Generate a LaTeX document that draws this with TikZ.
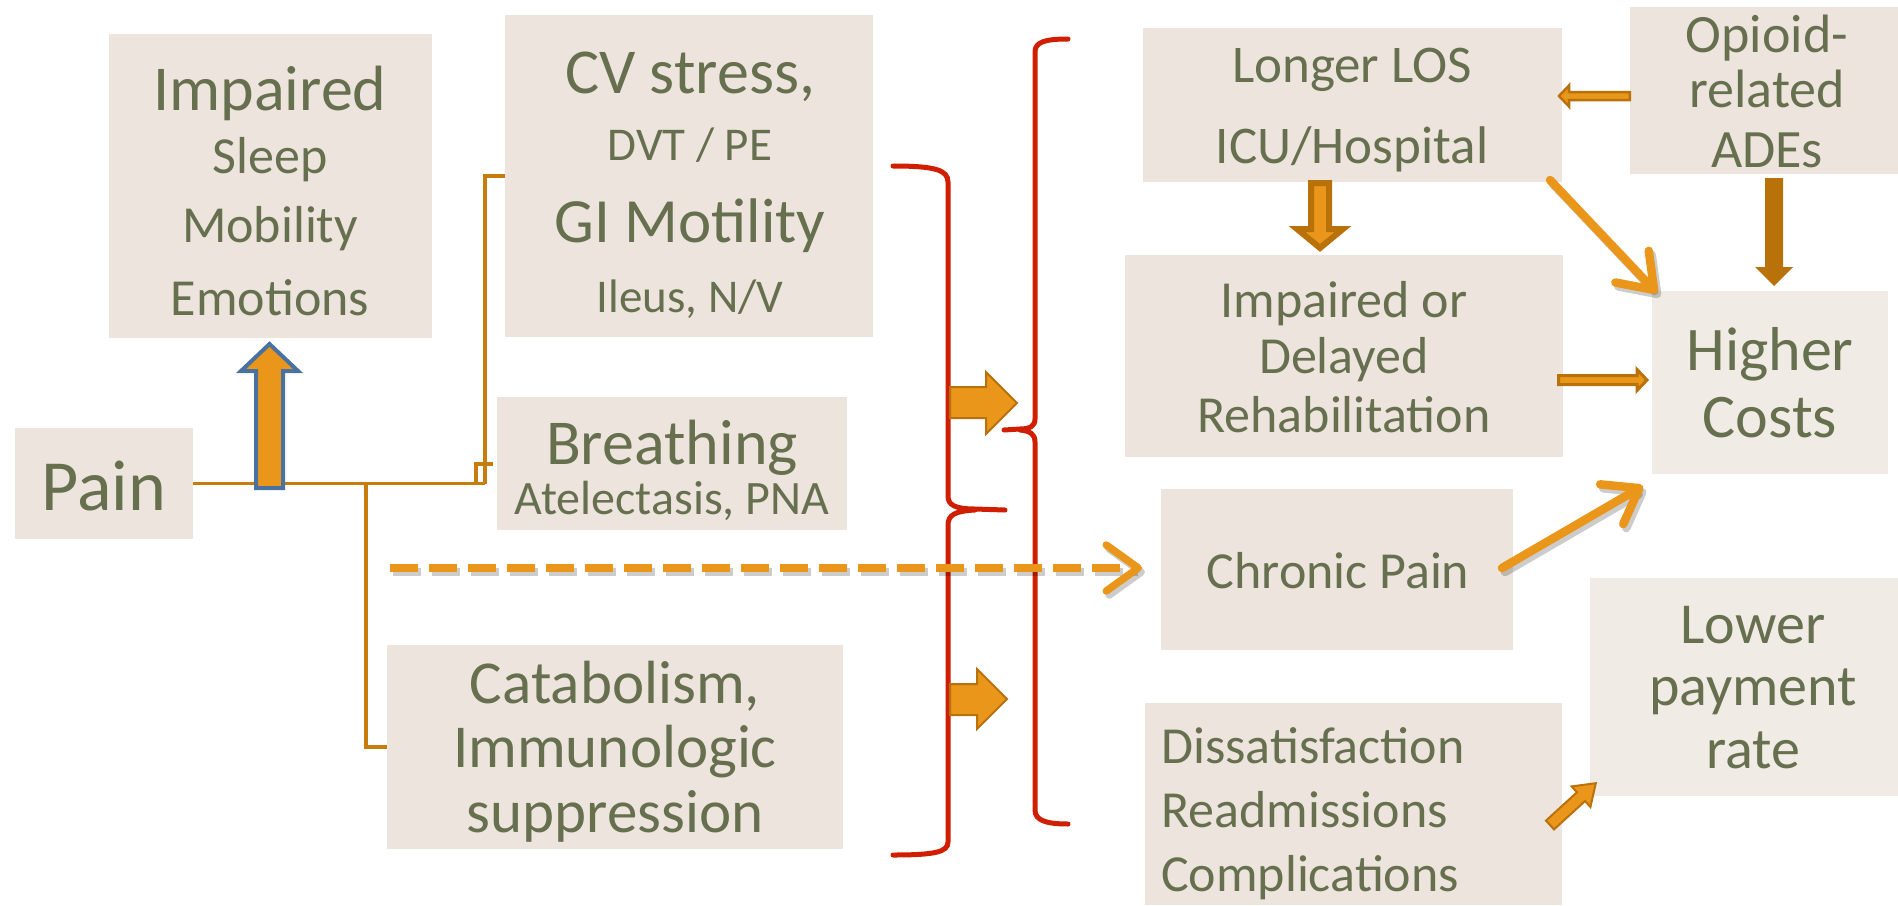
\documentclass[tikz,border=0pt]{standalone}
\usepackage{fontspec}
\setmainfont{Carlito}
\usetikzlibrary{arrows.meta}
\definecolor{boxfill}{HTML}{EEE4DE}
\definecolor{boxfillB}{HTML}{F0EBE5}
\definecolor{txt}{HTML}{66704F}
\definecolor{orng}{HTML}{E9961A}
\definecolor{dorng}{HTML}{B9720A}
\definecolor{treec}{HTML}{C77D0C}
\definecolor{bred}{HTML}{D01E00}
\definecolor{bblue}{HTML}{4A72A0}
\newcommand\fsz[1]{\fontsize{#1}{#1}\selectfont}
\tikzset{
  box/.style={fill=boxfill, draw=none, inner sep=0pt},
  boxB/.style={fill=boxfillB, draw=none, inner sep=0pt},
  tl/.style={anchor=base, text=txt, inner sep=0pt},
  tll/.style={anchor=base west, text=txt, inner sep=0pt},
  treeline/.style={draw=treec, line width=3.3pt},
  brace/.style={draw=bred, line width=5pt, line cap=round},
  blockA/.style={fill=orng, draw=dorng, line width=2pt, line join=miter},
  blockB/.style={fill=orng, draw=dorng, line width=6pt, line join=miter},
  blockC/.style={fill=orng, draw=dorng, line width=3pt, line join=miter},
  solidB/.style={fill=dorng, draw=none},
  bluearr/.style={fill=orng, draw=bblue, line width=4pt, line join=miter},
  barb/.style={draw=orng, line width=8.5pt, line cap=round,
     -{Straight Barb[length=32pt,width=46pt,round]}},
  shad/.style={draw=black, opacity=0.2, line width=8.5pt, line cap=round,
     -{Straight Barb[length=32pt,width=46pt,round]}},
  dashy/.style={line width=7.5pt, line cap=butt, dash pattern=on 28pt off 11pt},
}
\begin{document}
\begin{tikzpicture}[x=1pt,y=-1pt]
\useasboundingbox (0,0) rectangle (1898,905);

% boxes
\node[box, minimum width=323pt, minimum height=304pt] (imp) at (270.5,186) {};
\node[box, minimum width=368pt, minimum height=322pt] (cv) at (689,176) {};
\node[box, minimum width=350pt, minimum height=133pt] (br) at (672,463.5) {};
\node[box, minimum width=178pt, minimum height=111pt] (pain) at (104,483.5) {};
\node[box, minimum width=456pt, minimum height=204pt] (cat) at (615,747) {};
\node[box, minimum width=419pt, minimum height=154pt] (los) at (1352.5,105) {};
\node[box, minimum width=268pt, minimum height=167pt] (op) at (1764,90.5) {};
\node[box, minimum width=438pt, minimum height=202pt] (reh) at (1344,356) {};
\node[boxB, minimum width=236pt, minimum height=183pt] (hc) at (1770,382.5) {};
\node[box, minimum width=352pt, minimum height=161pt] (cp) at (1337,569.5) {};
\node[boxB, minimum width=308pt, minimum height=218pt] (lp) at (1744,687) {};
\node[box, minimum width=417pt, minimum height=202pt] (dis) at (1353.5,804) {};

% texts
\node[tl] (imp1) at (270,110) {\fsz{64}Impaired};
\node[tl] (imp2) at (270,173) {\fsz{52}Sleep};
\node[tl] (imp3) at (270,242) {\fsz{52}Mobility};
\node[tl] (imp4) at (270,315) {\fsz{52}Emotions};

\node[tl] (cv1) at (690,93) {\fsz{64}CV stress,};
\node[tl] (cv2) at (690,160) {\fsz{47}DVT / PE};
\node[tl] (cv3) at (690,242) {\fsz{63}GI Motility};
\node[tl] (cv4) at (690,312) {\fsz{47}Ileus, N/V};

\node[tl] (br1) at (672,464) {\fsz{64}Breathing};
\node[tl] (br2) at (672,514) {\fsz{48}Atelectasis, PNA};

\node[tl] (pain1) at (104,510) {\fsz{72}Pain};

\node[tl] (cat1) at (615,703) {\fsz{61}Catabolism,};
\node[tl] (cat2) at (615,767) {\fsz{61}Immunologic};
\node[tl] (cat3) at (615,832) {\fsz{61}suppression};

\node[tl] (los1) at (1352,82) {\fsz{53}Longer LOS};
\node[tl] (los2) at (1352,163) {\fsz{53}ICU/Hospital};

\node[tl] (op1) at (1767,52) {\fsz{54}Opioid-};
\node[tl] (op2) at (1767,107) {\fsz{54}related};
\node[tl] (op3) at (1767,167) {\fsz{54}ADEs};

\node[tl] (reh1) at (1344,317) {\fsz{52}Impaired or};
\node[tl] (reh2) at (1344,373) {\fsz{52}Delayed};
\node[tl] (reh3) at (1344,432) {\fsz{52}Rehabilitation};

\node[tl] (hc1) at (1770,370) {\fsz{62}Higher};
\node[tl] (hc2) at (1770,437) {\fsz{62}Costs};

\node[tl] (cp1) at (1338,588) {\fsz{52}Chronic Pain};

\node[tl] (lp1) at (1753,643) {\fsz{58}Lower};
\node[tl] (lp2) at (1753,705) {\fsz{58}payment};
\node[tl] (lp3) at (1753,768) {\fsz{58}rate};

\node[tll] (dis1) at (1161,763) {\fsz{52}Dissatisfaction};
\node[tll] (dis2) at (1161,827) {\fsz{52}Readmissions};
\node[tll] (dis3) at (1161,891) {\fsz{52}Complications};

% pain tree
\coordinate (j1) at (485,483.5);
\coordinate (j2) at (366,483.5);
\draw[treeline] (pain.east) -- (j1);
\draw[treeline] (j1) -- (485,176) -- (cv.west |- 0,176);
\draw[treeline] (476,483.5) -- (476,464) -- (493,464);
\draw[treeline] (j2) -- (366,747) -- (cat.west |- 0,747);

% blue arrow up
\draw[bluearr] (256,488) -- (256,371) -- (241,371) -- (269.5,344) -- (298,371) -- (283,371) -- (283,488) -- cycle;

% red braces
\draw[brace] (893,166) .. controls (935,166) and (948,170) .. (948,182) -- (948,496)
  .. controls (948,505) and (955,509) .. (975,509) -- (1005,510);
\draw[brace] (975,510) .. controls (955,511) and (948,515) .. (948,525) -- (948,842)
  .. controls (948,852) and (935,855) .. (893,855);
\draw[brace] (1068,39) .. controls (1045,39) and (1035,42) .. (1035,52) -- (1035,419)
  .. controls (1035,426) and (1030,429) .. (1020,429) -- (1004,430);
\draw[brace] (1020,430) .. controls (1030,431) and (1035,434) .. (1035,442) -- (1035,810)
  .. controls (1035,820) and (1045,824) .. (1068,824);

% block arrows from braces
\draw[blockA] (950,387) -- (986,387) -- (986,372) -- (1017,403) -- (986,434) -- (986,418) -- (950,418) -- cycle;
\draw[blockA] (950,684) -- (977,684) -- (977,669) -- (1007,699) -- (977,729) -- (977,715) -- (950,715) -- cycle;

% dashed arrow to chronic pain
\coordinate (dstart) at (390,568);
\coordinate (dend) at (1142,568);
\draw[shad, dashy] ([shift={(3,4)}]dstart) -- ([shift={(3,4)}]dend);
\draw[barb, dashy] (dstart) -- (dend);

% opioid -> LOS
\draw[blockA, line width=2.5pt] (op.west |- 0,92) -- (1569,92) -- (1569,85.5) -- (1559,96) -- (1569,106.5) -- (1569,100) -- (op.west |- 0,100) -- cycle;

% LOS -> rehab
\draw[blockB] (1311,183) -- (1329,183) -- (1329,229) -- (1343,229) -- (1320,248) -- (1297,229) -- (1311,229) -- cycle;

% opioid -> higher costs
\fill[solidB] (1765,178) -- (1783,178) -- (1783,267) -- (1793,267) -- (1774,286) -- (1755,267) -- (1765,267) -- cycle;

% rehab -> higher costs
\draw[blockC] (1558.5,375.5) -- (1637,375.5) -- (1637,369.5) -- (1647,380) -- (1637,390.5) -- (1637,384.5) -- (1558.5,384.5) -- cycle;

% LOS -> higher costs (diagonal)
\coordinate (a1s) at (1550,180);
\coordinate (a1e) at (1657,293);
\draw[shad] ([shift={(3,4)}]a1s) -- ([shift={(3,4)}]a1e);
\draw[barb] (a1s) -- (a1e);

% chronic pain -> higher costs
\coordinate (a2s) at (1502,568);
\coordinate (a2e) at (1643,486);
\draw[shad] ([shift={(3,4)}]a2s) -- ([shift={(3,4)}]a2e);
\draw[barb] (a2s) -- (a2e);

% dissatisfaction -> lower payment
\draw[blockA] (1546.0,820.6) -- (1576.9,792.3) -- (1571.6,786.4) -- (1595.8,783.2) -- (1590.4,807.0) -- (1585.0,801.1) -- (1554.0,829.4) -- cycle;

\end{tikzpicture}
\end{document}
